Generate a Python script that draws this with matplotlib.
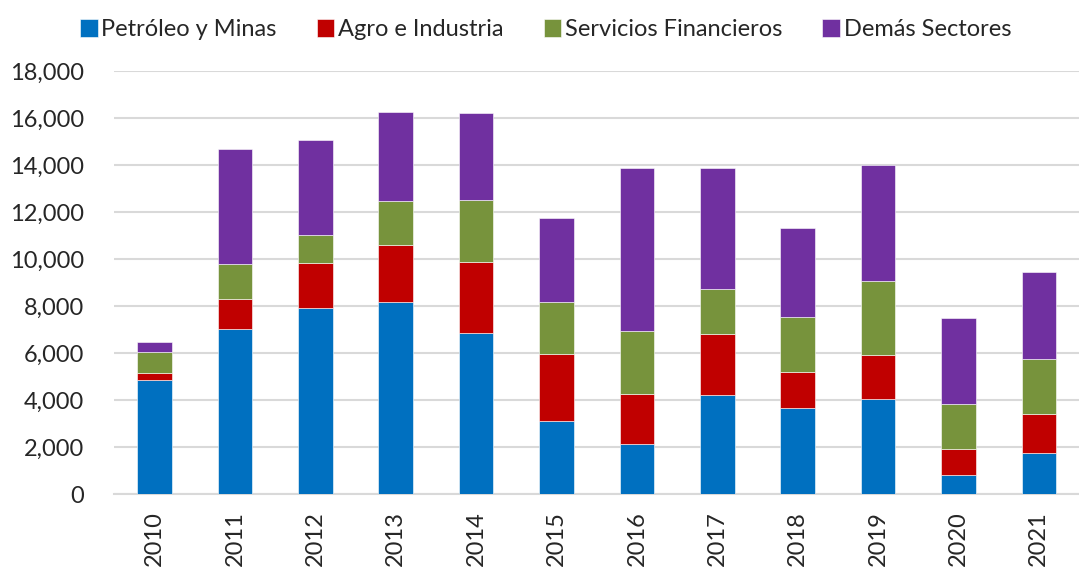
import numpy as np
import matplotlib.pyplot as plt
from matplotlib.ticker import FuncFormatter

years = ['2010', '2011', '2012', '2013', '2014', '2015',
         '2016', '2017', '2018', '2019', '2020', '2021']
petroleo = [4860, 7040, 7900, 8170, 6850, 3120, 2140, 4210, 3670, 4055, 830, 1760]
agro = [285, 1260, 1940, 2420, 3010, 2845, 2140, 2590, 1530, 1880, 1100, 1630]
financieros = [905, 1475, 1190, 1880, 2645, 2220, 2645, 1910, 2350, 3130, 1925, 2350]
demas = [410, 4910, 4050, 3765, 3695, 3555, 6950, 5150, 3780, 4955, 3625, 3695]

series = [
    ('Petróleo y Minas', petroleo, '#0070C0'),
    ('Agro e Industria', agro, '#C00000'),
    ('Servicios Financieros', financieros, '#77933C'),
    ('Demás Sectores', demas, '#7030A0'),
]

plt.rcParams['font.family'] = ['Lato', 'DejaVu Sans']

fig = plt.figure(figsize=(10.79, 5.68), dpi=100)
ax = fig.add_axes([0.106, 0.13, 0.894, 0.745])

x = np.arange(len(years))
bottom = np.zeros(len(years))
for name, vals, color in series:
    ax.bar(x, vals, 0.43, bottom=bottom, color=color, label=name,
           edgecolor='white', linewidth=0.4, zorder=3)
    bottom += np.array(vals)

ax.set_ylim(0, 18000)
ax.set_yticks(range(0, 18001, 2000))
ax.yaxis.set_major_formatter(FuncFormatter(lambda v, p: f'{int(v):,}'))
ax.set_xlim(-0.5, len(years) - 0.5)
ax.set_xticks(x)
ax.set_xticklabels(years, rotation=90)

ax.grid(axis='y', color='#d9d9d9', linewidth=1.5, zorder=0)
for s in ['top', 'right', 'left']:
    ax.spines[s].set_visible(False)
ax.spines['bottom'].set_color('#d9d9d9')
ax.spines['bottom'].set_linewidth(1.5)
ax.tick_params(axis='both', length=0, labelsize=17, colors='#262626')
ax.tick_params(axis='y', pad=22)
ax.tick_params(axis='x', pad=12)

ax.legend(loc='lower center', bbox_to_anchor=(0.447, 1.045), ncol=4,
          frameon=False, fontsize=17, handlelength=0.75, handleheight=0.75,
          handletextpad=0.15, columnspacing=1.7, labelcolor='#262626',
          borderpad=0)

fig.savefig('out.png', dpi=100)
